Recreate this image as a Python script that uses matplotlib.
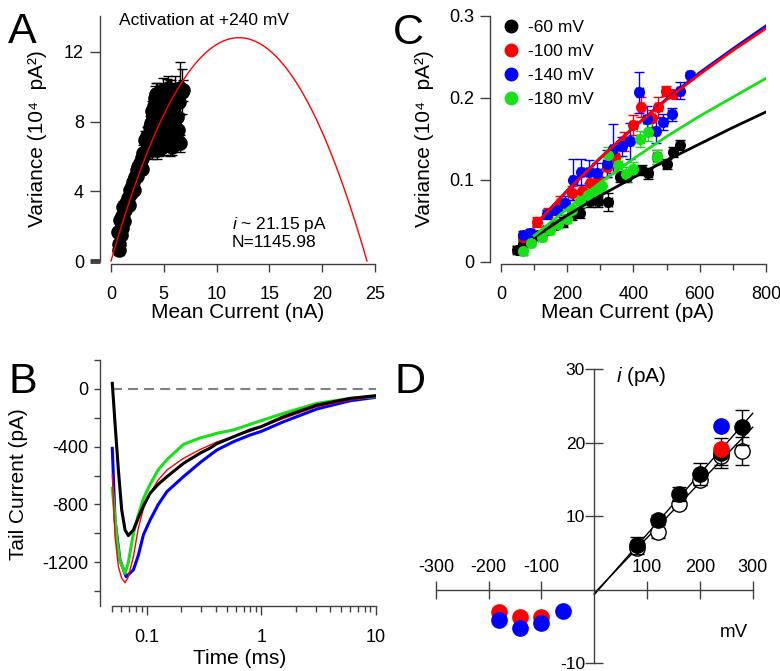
import numpy as np
import matplotlib
matplotlib.use('Agg')
import matplotlib.pyplot as plt
from matplotlib.lines import Line2D
from matplotlib.ticker import FixedLocator, NullFormatter

plt.rcParams['font.family'] = ['Liberation Sans', 'DejaVu Sans']
plt.rcParams['axes.unicode_minus'] = False
plt.rcParams['mathtext.fontset'] = 'custom'
plt.rcParams['mathtext.it'] = 'Liberation Sans:italic'
plt.rcParams['mathtext.rm'] = 'Liberation Sans'

# ---------------- Panel A data (mean current nA, variance 1e4 pA^2) ----------------
a_current = [0.79, 0.69, 0.75, 0.85, 0.90, 1.00, 1.05, 1.17, 1.20, 1.30, 1.40, 1.49, 1.60, 1.70,
             1.80, 1.90, 2.00, 2.11, 2.20, 2.30, 2.43, 2.50, 2.60, 2.75, 2.90, 2.95, 3.06, 3.22,
             3.30, 3.40, 3.55, 3.60, 3.69, 3.80, 3.85, 3.90, 4.00, 4.10, 4.17, 4.25, 4.33, 4.40,
             4.50, 4.50, 4.64, 4.70, 4.80, 4.85, 4.95, 5.00, 5.00, 5.11, 5.15, 5.27, 5.30, 5.40,
             5.45, 5.59, 5.60, 5.70, 5.75, 5.85, 5.90, 6.00, 6.06, 6.06, 6.20, 6.22, 6.30, 6.38,
             6.45, 6.53, 6.53, 6.70, 6.85, 4.20]
a_variance = [0.63, 1.68, 1.00, 2.35, 1.50, 1.90, 2.60, 3.12, 2.30, 2.90, 3.30, 3.40, 3.60, 3.20,
              4.08, 3.90, 4.30, 4.55, 4.10, 4.80, 5.22, 4.90, 5.40, 5.60, 5.30, 5.90, 6.18, 6.95,
              6.30, 7.20, 6.60, 7.00, 7.70, 7.90, 6.37, 8.60, 8.28, 8.90, 9.34, 9.60, 6.37, 9.50,
              8.20, 7.00, 7.52, 9.00, 6.56, 8.60, 9.82, 9.30, 6.60, 7.14, 8.50, 9.63, 7.90, 9.90,
              7.10, 8.67, 8.20, 9.80, 6.56, 9.20, 7.40, 8.00, 9.82, 9.05, 9.60, 8.28, 6.90, 7.52,
              9.10, 6.75, 9.90, 9.72, 9.80, 7.30]
a_current_err = [0.08] * len(a_current)
a_variance_err = [0.3, 0.3, 0.2, 0.3, 0.2, 0.3, 0.3, 0.3, 0.2, 0.3, 0.3, 0.3, 0.3, 0.2,
                  0.3, 0.3, 0.3, 0.3, 0.2, 0.3, 0.4, 0.3, 0.3, 0.4, 0.3, 0.3, 0.5, 0.5,
                  0.4, 0.5, 0.4, 0.5, 0.6, 0.5, 0.5, 0.6, 0.6, 0.6, 0.7, 0.6, 0.5, 0.7,
                  0.6, 1.0, 0.6, 0.6, 0.5, 0.6, 0.7, 0.6, 0.5, 0.6, 0.6, 0.8, 0.5, 0.7,
                  0.5, 0.7, 2.2, 0.6, 0.5, 0.6, 0.5, 0.6, 0.8, 0.6, 0.6, 0.5, 0.5, 0.6,
                  0.6, 0.5, 1.5, 1.3, 0.6, 0.6]
a_single_current = 21.15    # pA
a_n_channels = 1145.98

# ---------------- Panel B data (time ms, tail current pA) ----------------
b_black_t = [0.05, 0.0528, 0.0565, 0.0604, 0.0646, 0.069, 0.0764, 0.0845, 0.0934, 0.107, 0.126,
             0.150, 0.209, 0.293, 0.358, 0.409, 0.573, 0.80, 1.0, 1.57, 3.07, 6.0, 10.0]
b_black_i = [37, -239, -562, -838, -976, -1015, -976, -890, -810, -722, -660,
             -608, -516, -445, -410, -380, -332, -285, -262, -193, -113, -67, -48]
b_red_t = [0.05, 0.0528, 0.0565, 0.0604, 0.0646, 0.069, 0.0764, 0.0845, 0.0934, 0.107, 0.126,
           0.150, 0.209, 0.293, 0.358, 0.409, 0.573, 0.80, 1.57, 3.07, 6.0, 10.0]
b_red_i = [-596, -1022, -1229, -1310, -1340, -1300, -1160, -960, -830, -722, -630,
           -562, -481, -420, -389, -368, -330, -295, -205, -124, -78, -55]
b_blue_t = [0.05, 0.0528, 0.0583, 0.066, 0.0764, 0.0845, 0.0934, 0.107, 0.126, 0.150, 0.209,
            0.293, 0.358, 0.409, 0.573, 0.80, 1.0, 1.57, 3.07, 6.0, 10.0]
b_blue_i = [-412, -907, -1183, -1299, -1252, -1150, -1010, -907, -800, -711, -608,
            -510, -458, -424, -366, -320, -295, -228, -140, -83, -60]
b_green_t = [0.05, 0.0546, 0.058, 0.0646, 0.069, 0.0764, 0.0845, 0.0934, 0.107, 0.126, 0.150,
             0.209, 0.293, 0.358, 0.409, 0.573, 0.80, 1.57, 3.07, 6.0, 10.0]
b_green_i = [-688, -1022, -1183, -1275, -1200, -1000, -870, -760, -660, -560, -490,
             -385, -340, -322, -308, -285, -246, -170, -101, -67, -55]

# ---------------- Panel C data (mean current pA, variance 1e4 pA^2) ----------------
c_labels = ['-60 mV', '-100 mV', '-140 mV', '-180 mV']
c_x_60 = [47, 67, 90, 113, 138, 163, 188, 213, 238, 269, 294, 324, 359, 380, 425, 445, 470, 500, 520, 540]
c_y_60 = [0.015, 0.022, 0.027, 0.033, 0.039, 0.045, 0.049, 0.057, 0.060, 0.074, 0.074, 0.073,
          0.104, 0.104, 0.112, 0.108, 0.128, 0.120, 0.134, 0.143]
c_y_60_err = [0.004, 0.004, 0.004, 0.005, 0.005, 0.005, 0.006, 0.006, 0.006, 0.007, 0.007, 0.011,
              0.007, 0.007, 0.006, 0.007, 0.008, 0.006, 0.006, 0.006]
c_x_100 = [67, 108, 143, 178, 213, 244, 269, 294, 319, 345, 372, 400, 423, 455, 475, 497, 518]
c_y_100 = [0.031, 0.049, 0.060, 0.072, 0.084, 0.086, 0.096, 0.100, 0.116, 0.128, 0.147, 0.167,
           0.189, 0.175, 0.189, 0.209, 0.205]
c_y_100_err = [0.004, 0.006, 0.006, 0.008, 0.009, 0.008, 0.009, 0.010, 0.012, 0.012, 0.012, 0.012,
               0.012, 0.010, 0.012, 0.006, 0.005]
c_x_140 = [67, 88, 138, 168, 193, 218, 242, 267, 291, 319, 339, 366, 389, 418, 440, 467, 490, 515, 540, 571]
c_y_140 = [0.033, 0.035, 0.058, 0.064, 0.072, 0.100, 0.110, 0.110, 0.109, 0.120, 0.138, 0.141,
           0.147, 0.207, 0.174, 0.160, 0.171, 0.180, 0.209, 0.228]
c_y_140_err = [0.005, 0.005, 0.006, 0.007, 0.008, 0.025, 0.016, 0.014, 0.012, 0.016, 0.030, 0.012,
               0.022, 0.025, 0.016, 0.015, 0.010, 0.008, 0.010, 0.004]
c_x_180 = [67, 90, 123, 148, 173, 198, 213, 238, 264, 284, 304, 324, 354, 376, 400, 421, 445, 472]
c_y_180 = [0.013, 0.023, 0.031, 0.039, 0.046, 0.053, 0.064, 0.074, 0.082, 0.086, 0.093, 0.130,
           0.118, 0.107, 0.114, 0.150, 0.158, 0.128]
c_y_180_err = [0.004, 0.004, 0.005, 0.005, 0.005, 0.006, 0.006, 0.007, 0.007, 0.007, 0.008, 0.010,
               0.010, 0.009, 0.008, 0.010, 0.010, 0.009]
c_fit_x = [100, 200, 300, 400, 500, 600, 700, 800]
c_fit_60 = [0.030, 0.057, 0.081, 0.103, 0.124, 0.144, 0.164, 0.183]
c_fit_100 = [0.044, 0.087, 0.127, 0.164, 0.198, 0.229, 0.258, 0.285]
c_fit_140 = [0.044, 0.087, 0.127, 0.164, 0.199, 0.231, 0.260, 0.288]
c_fit_180 = [0.032, 0.065, 0.097, 0.126, 0.153, 0.178, 0.201, 0.224]

# ---------------- Panel D data (voltage mV, single-channel current pA) ----------------
d_v_black = [80, 120, 160, 200, 240, 280]
d_i_black = [6.0, 9.5, 13.0, 15.7, 18.6, 22.1]
d_e_black = [1.2, 0.6, 0.9, 1.5, 2.1, 2.4]
d_v_open = [80, 120, 160, 200, 240, 280]
d_i_open = [5.6, 7.9, 11.6, 14.9, 18.2, 18.9]
d_e_open = [0.5, 0.9, 0.5, 0.6, 1.2, 1.9]
d_v_red = [-180, -140, -100, 240]
d_i_red = [-3.0, -3.8, -3.8, 19.2]
d_v_blue = [-180, -140, -100, -60, 240]
d_i_blue = [-4.1, -5.2, -4.6, -2.9, 22.3]
d_fit_v = [0, 300]
d_fit_black = [-0.7, 24.0]
d_fit_open = [-0.5, 22.1]

# ---------------- figure ----------------
W, H = 780, 671
fig = plt.figure(figsize=(W / 100, H / 100), dpi=100)
AXC = '#404040'
RED = '#ff0000'
BLUE = '#0000ff'
GREEN = '#18e018'


def rect(l, t, r, b):
    return [l / W, 1 - b / H, (r - l) / W, (b - t) / H]


def style(ax):
    for s in ['top', 'right']:
        ax.spines[s].set_visible(False)
    for s in ['left', 'bottom']:
        ax.spines[s].set_color(AXC)
        ax.spines[s].set_linewidth(1.0)
    ax.tick_params(colors=AXC, labelcolor='black', width=1.0)


# ---- Panel A
axA = fig.add_axes(rect(100, 16, 375, 264))
style(axA)
axA.set_xlim(-1.042, 25.0)
axA.set_ylim(-0.172, 14.06)
axA.spines['left'].set_bounds(0, 14.06)
axA.spines['bottom'].set_bounds(0, 25)
axA.errorbar(a_current, a_variance, xerr=a_current_err, yerr=a_variance_err, fmt='o',
             color='black', ms=9.5, capsize=3.5, elinewidth=1, capthick=1, zorder=2)
fit_I = np.linspace(0, a_single_current * a_n_channels / 1000.0, 300)
fit_var = (a_single_current * fit_I * 1000 - (fit_I * 1000) ** 2 / a_n_channels) / 1e4
axA.plot(fit_I, fit_var, color=RED, lw=1.0, zorder=3)
axA.set_xticks([0, 5, 10, 15, 20, 25])
axA.set_yticks([0, 4, 8, 12])
axA.tick_params(axis='x', length=6, pad=10, labelsize=13)
axA.tick_params(axis='y', length=7, pad=4.5, labelsize=13)
axA.yaxis.get_major_ticks()[0].tick1line.set_markeredgewidth(3.5)
axA.yaxis.get_major_ticks()[0].tick1line.set_color('black')
axA.text(0.76, 13.83, 'Activation at +240 mV', fontsize=12.5, ha='left', va='center')
axA.text(11.45, (261 - 247.5) / 17.42,
         '$\\mathit{i}$ ~ %.2f pA\nN=%.2f' % (a_single_current, a_n_channels),
         fontsize=12.5, ha='left', va='baseline', linespacing=1.13)

# ---- Panel C
axC = fig.add_axes(rect(490, 16, 766, 264))
style(axC)
axC.set_xlim(-33.2, 800)
axC.set_ylim(-0.00244, 0.3)
axC.spines['left'].set_bounds(0, 0.3)
axC.spines['bottom'].set_bounds(0, 800)
c_series = [(c_x_60, c_y_60, c_y_60_err, 'black'),
            (c_x_100, c_y_100, c_y_100_err, RED),
            (c_x_140, c_y_140, c_y_140_err, BLUE),
            (c_x_180, c_y_180, c_y_180_err, GREEN)]
for xs, ys, es, col in c_series:
    axC.errorbar(xs, ys, xerr=[10] * len(xs), yerr=es, fmt='o', color=col, ms=7,
                 capsize=3.5, elinewidth=1, capthick=1, zorder=2)
axC.plot(c_fit_x, c_fit_60, color='black', lw=2, zorder=3)
axC.plot(c_fit_x, c_fit_180, color=GREEN, lw=2, zorder=3)
axC.plot(c_fit_x, c_fit_140, color=BLUE, lw=2, zorder=3)
axC.plot(c_fit_x, c_fit_100, color=RED, lw=2, zorder=3)
axC.set_xticks([0, 200, 400, 600, 800])
axC.set_xticks([100, 300, 500, 700], minor=True)
axC.set_yticks([0, 0.1, 0.2, 0.3])
axC.set_yticklabels(['0', '0.1', '0.2', '0.3'])
axC.tick_params(axis='x', which='major', length=6, pad=10, labelsize=13)
axC.tick_params(axis='x', which='minor', length=4, colors=AXC, width=1)
axC.tick_params(axis='y', length=7, pad=4.5, labelsize=13)
handles = [Line2D([], [], marker='o', ls='', color=c, ms=9)
           for c in ['black', RED, BLUE, GREEN]]
axC.legend(handles, c_labels, loc='upper left', bbox_to_anchor=(0.05, 0.984),
           frameon=False, fontsize=12.5, handlelength=0.8, handletextpad=0.6,
           labelspacing=0.51, borderpad=0, borderaxespad=0)

# ---- Panel B
axB = fig.add_axes(rect(100, 359.75, 375.7, 605.8))
style(axB)
axB.set_xscale('log')
axB.set_xlim(0.03903, 10)
axB.set_ylim(-1500, 200)
axB.spines['bottom'].set_bounds(0.05, 10)
axB.plot([0.05, 10], [0, 0], color='#808080', lw=1.5, ls=(0, (4.8, 2.9)), zorder=1)
axB.plot(b_blue_t, b_blue_i, color=BLUE, lw=2.2, zorder=2)
axB.plot(b_green_t, b_green_i, color=GREEN, lw=2.2, zorder=3)
axB.plot(b_red_t, b_red_i, color=RED, lw=1.0, zorder=4)
axB.plot(b_black_t, b_black_i, color='black', lw=2.2, zorder=5)
axB.xaxis.set_major_locator(FixedLocator([0.1, 1, 10]))
axB.set_xticklabels(['0.1', '1', '10'])
minors = [0.05, 0.06, 0.07, 0.08, 0.09] + [k / 10 for k in range(2, 10)] + list(range(2, 10))
axB.xaxis.set_minor_locator(FixedLocator(minors))
axB.xaxis.set_minor_formatter(NullFormatter())
axB.set_yticks([0, -400, -800, -1200])
axB.set_yticks([200, -200, -600, -1000, -1400], minor=True)
axB.tick_params(axis='x', which='major', length=6.5, pad=10, labelsize=13)
axB.tick_params(axis='x', which='minor', length=4.5, colors=AXC, width=1)
axB.tick_params(axis='y', which='both', length=4, pad=4.3, labelsize=13, colors=AXC, width=1)
axB.tick_params(axis='y', labelcolor='black')

# ---- Panel D
axD = fig.add_axes(rect(420, 339.9, 780, 671))
axD.patch.set_alpha(0)
axD.set_xlim(-330, 351.7)
axD.set_ylim(-11.1, 34.0)
axD.spines['right'].set_visible(False)
axD.spines['bottom'].set_visible(False)
axD.spines['top'].set_position(('data', 0))
axD.spines['left'].set_position(('data', 0))
axD.spines['top'].set_bounds(-300, 300)
axD.spines['left'].set_bounds(-10, 30)
for s in ['top', 'left']:
    axD.spines[s].set_color(AXC)
    axD.spines[s].set_linewidth(1.0)
axD.xaxis.set_ticks_position('top')
axD.set_xticks([-300, -200, -100, 100, 200, 300])
axD.set_yticks([-10, 10, 20, 30])
axD.tick_params(axis='both', direction='inout', length=13.5, width=1, colors=AXC,
                labelcolor='black', labelsize=13)
axD.tick_params(axis='x', pad=3)
axD.tick_params(axis='y', pad=0, labelsize=12.5)
for lbl in axD.get_yticklabels():
    lbl.set_va('center_baseline')
axD.plot(d_fit_v, d_fit_black, color='black', lw=1, zorder=2)
axD.plot(d_fit_v, d_fit_open, color='black', lw=1, zorder=2)
axD.errorbar(d_v_open, d_i_open, yerr=d_e_open, fmt='o', ms=11, mfc='white', mec='black',
             mew=1, ecolor='black', elinewidth=1, capsize=5, capthick=1, zorder=3)
axD.errorbar(d_v_black, d_i_black, yerr=d_e_black, fmt='o', ms=11, color='black',
             elinewidth=1, capsize=5, capthick=1, zorder=4)
axD.plot(d_v_red, d_i_red, 'o', ms=11, color=RED, zorder=5)
axD.plot(d_v_blue, d_i_blue, 'o', ms=11, color=BLUE, zorder=6)
axD.text(42, 29.0, r'$\mathit{i}$ (pA)', fontsize=15, ha='left', va='center')
axD.text(237, -5.9, 'mV', fontsize=13.5, ha='left', va='center')

# ---- labels
fig.text(237.5 / W, 1 - 313 / H, 'Mean Current (nA)', fontsize=15, ha='center', va='center')
fig.text(37.5 / W, 1 - 138.5 / H, 'Variance (10\u2074  pA\u00b2)', fontsize=15, ha='center',
         va='center', rotation=90)
fig.text(627.5 / W, 1 - 313 / H, 'Mean Current (pA)', fontsize=15, ha='center', va='center')
fig.text(425 / W, 1 - 138.5 / H, 'Variance (10\u2074  pA\u00b2)', fontsize=15, ha='center',
         va='center', rotation=90)
fig.text(240 / W, 1 - 658 / H, 'Time (ms)', fontsize=15, ha='center', va='center')
fig.text(18.5 / W, 1 - 484 / H, 'Tail Current (pA)', fontsize=15, ha='center', va='center',
         rotation=90)

for lab, x, y in [('A', 8, 43), ('B', 8, 393), ('C', 393, 44), ('D', 395, 393)]:
    fig.text(x / W, 1 - y / H, lab, fontsize=31, ha='left', va='baseline')

fig.savefig('out.png', dpi=100)
